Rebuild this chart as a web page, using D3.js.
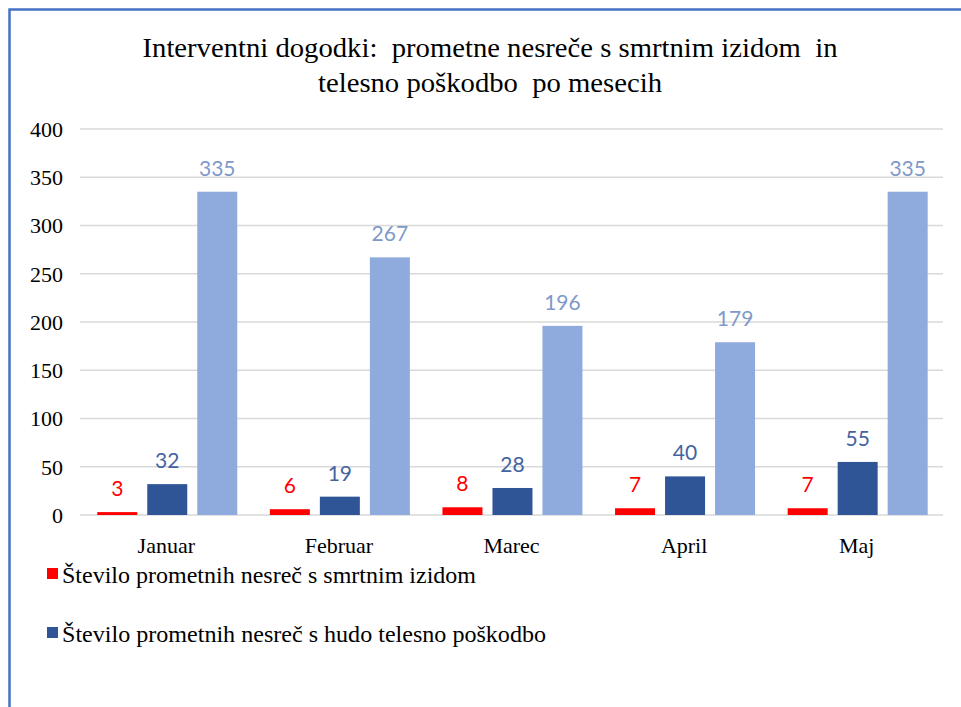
<!DOCTYPE html>
<html><head><meta charset="utf-8">
<script src="https://cdn.jsdelivr.net/npm/d3@7"></script>
<style>html,body{margin:0;padding:0;background:#fff;}svg{display:block;}</style>
</head><body>
<script>
const categories = ["Januar","Februar","Marec","April","Maj"];
const seriesNames = ["Število prometnih nesreč s smrtnim izidom","Število prometnih nesreč s hudo telesno poškodbo","Število prometnih nesreč z lažjo telesno poškodbo"];
const fatal = [3,6,8,7,7];
const severe = [32,19,28,40,55];
const light = [335,267,196,179,335];
const yTicks = [0,50,100,150,200,250,300,350,400];
const titleLines = ["Interventni dogodki:  prometne nesreče s smrtnim izidom  in","telesno poškodbo  po mesecih"];
const legendItems = [0,1];

const W=961,H=707;
const colors=["#FF0000","#2F5597","#8FAADC"];
const labelColors=["#FF0000","#44649F","#8099C9"];
const SERIF="'Liberation Serif','Times New Roman',Times,serif";
const svg=d3.select("body").append("svg").attr("width",W).attr("height",H);
svg.append("rect").attr("width",W).attr("height",H).attr("fill","#fff");
svg.append("path").attr("d","M9.5,707 L9.5,9.5 L961,9.5").attr("fill","none").attr("stroke","#4472C4").attr("stroke-width",2.5);

const x0=d3.scaleBand().domain(categories).range([80,943]).paddingInner(0).paddingOuter(0);
const bw=x0.bandwidth();
const x1=d3.scaleBand().domain([0,1,2]).range([bw*0.1,bw*0.1+140]).paddingInner(0.2).paddingOuter(0);
const y=d3.scaleLinear().domain([0,400]).range([515,129]);

svg.append("g").selectAll("line").data(yTicks).join("line")
 .attr("x1",80).attr("x2",943).attr("y1",d=>y(d)).attr("y2",d=>y(d))
 .attr("stroke","#D9D9D9").attr("stroke-width",1.3);

const yAxis=d3.axisLeft(y).tickValues(yTicks).tickSize(0).tickPadding(0);
const ya=svg.append("g").attr("transform","translate(63,0)").call(yAxis);
ya.select(".domain").remove();
ya.attr("font-family",null);
ya.selectAll("text").style("font-family",SERIF).style("font-size","22px").attr("fill","#000").attr("dy","0.33em");

const xAxis=d3.axisBottom(x0).tickSize(0).tickPadding(0);
const xa=svg.append("g").attr("transform","translate(0,538)").call(xAxis);
xa.select(".domain").remove();
xa.attr("font-family",null);
xa.selectAll("text").style("font-family",SERIF).style("font-size","22px").attr("fill","#000").attr("dy","0.68em");

const data=[fatal,severe,light];
const g=svg.append("g");
categories.forEach((c,i)=>{
  data.forEach((s,k)=>{
    const v=s[i];
    const bx=x0(c)+x1(k);
    g.append("rect").attr("x",bx).attr("y",y(v)).attr("width",x1.bandwidth()).attr("height",y(0)-y(v)).attr("fill",colors[k]);
    g.append("text").attr("x",bx+x1.bandwidth()/2).attr("y",y(v)-16).attr("text-anchor","middle")
     .style("font-family","Lato,'Open Sans',sans-serif").style("font-size","21px").attr("fill",labelColors[k]).text(v);
  });
});

svg.append("g").selectAll("text").data(titleLines).join("text")
 .attr("x",490).attr("y",(d,i)=>57+i*35).attr("text-anchor","middle")
 .style("font-family",SERIF).style("font-size","28px").attr("fill","#000")
 .style("white-space","pre").attr("xml:space","preserve")
 .attr("textLength",(d,i)=>i===0?695:344).attr("lengthAdjust","spacingAndGlyphs")
 .text(d=>d);

const lg=svg.append("g");
legendItems.forEach((k,i)=>{
  const ly=568+i*59;
  lg.append("rect").attr("x",47).attr("y",ly).attr("width",11).attr("height",11).attr("fill",colors[k]);
  lg.append("text").attr("x",62).attr("y",ly+15).style("font-family",SERIF).style("font-size","23px").attr("fill","#000")
   .attr("textLength",i===0?414:484).attr("lengthAdjust","spacingAndGlyphs").text(seriesNames[k]);
});
</script>
</body></html>
